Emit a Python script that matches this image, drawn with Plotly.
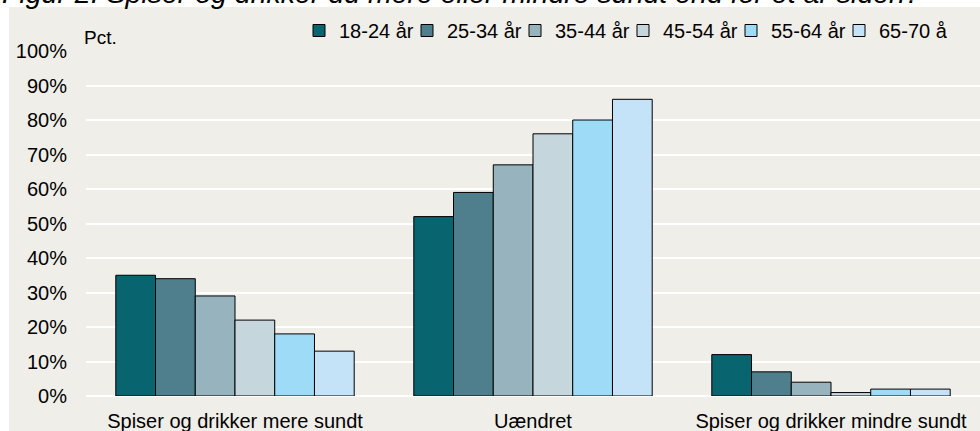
import plotly.graph_objects as go

categories = ["Spiser og drikker mere sundt", "Uændret", "Spiser og drikker mindre sundt"]
age_groups = ["18-24 år", "25-34 år", "35-44 år", "45-54 år", "55-64 år", "65-70 år"]
values_18_24 = [35, 52, 12]
values_25_34 = [34, 59, 7]
values_35_44 = [29, 67, 4]
values_45_54 = [22, 76, 1]
values_55_64 = [18, 80, 2]
values_65_70 = [13, 86, 2]
series = [values_18_24, values_25_34, values_35_44, values_45_54, values_55_64, values_65_70]
colors = ["#08646F", "#4F7F8C", "#97B4BE", "#C6D6DD", "#9DDBF7", "#C4E3F9"]
y_ticks = [0, 10, 20, 30, 40, 50, 60, 70, 80, 90, 100]
y_ticktext = [f"{v}%" for v in y_ticks]
title_text = "Figur 2. Spiser og drikker du mere eller mindre sundt end for et år siden?"

W, H = 980, 431
ML, MR, MT, MB = 86, 0, 51, 35
PW, PH = W - ML - MR, H - MT - MB


def px_x(px):
    return (px - ML) / PW


def px_y(py):
    return (H - MB - py) / PH


FONT = "Liberation Sans, Arial, sans-serif"

fig = go.Figure()
for name, vals, col in zip(age_groups, series, colors):
    fig.add_trace(go.Bar(
        name=name, x=categories, y=vals,
        marker=dict(color=col, line=dict(color="#000000", width=1)),
    ))

fig.update_layout(
    width=W, height=H,
    margin=dict(l=ML, r=MR, t=MT, b=MB, pad=0),
    paper_bgcolor="#FFFFFF",
    plot_bgcolor="#E0DFD4",
    barmode="group", bargap=0.2, bargroupgap=0,
    font=dict(family=FONT, size=20, color="#000000"),
    showlegend=True,
    legend=dict(
        orientation="h", x=px_x(299), xanchor="left", y=px_y(11), yanchor="top",
        bgcolor="rgba(0,0,0,0)", font=dict(size=20, family=FONT),
        itemwidth=30, entrywidth=63, entrywidthmode="pixels",
        traceorder="normal", itemclick=False,
    ),
    shapes=[dict(
        type="rect", xref="paper", yref="paper",
        x0=px_x(9), x1=px_x(W + 2), y0=px_y(7), y1=px_y(H + 2),
        fillcolor="#EFEEE8", line=dict(width=0), layer="below",
    )],
    annotations=[
        dict(text="Pct.", xref="paper", yref="paper", x=px_x(82), y=px_y(37),
             xanchor="left", yanchor="middle", showarrow=False,
             font=dict(size=19, family=FONT)),
        dict(text=f"<i>{title_text}</i>", xref="paper", yref="paper", x=px_x(0), y=px_y(-7),
             xanchor="left", yanchor="middle", showarrow=False,
             font=dict(size=28.5, family=FONT)),
    ],
)
fig.update_xaxes(showgrid=False, showline=False, ticks="", ticklabelstandoff=11,
                 tickfont=dict(size=20, family=FONT))
fig.update_yaxes(range=[0, 100], tickvals=y_ticks, ticktext=y_ticktext,
                 showgrid=True, gridcolor="#FFFFFF", gridwidth=2,
                 zeroline=True, zerolinecolor="#FFFFFF", zerolinewidth=2,
                 showline=False, ticks="", ticklabelstandoff=18,
                 tickfont=dict(size=20, family=FONT))

fig.write_html("out.html", config={"displayModeBar": False},
               post_script="document.body.style.margin='0';document.body.style.overflow='hidden';")
